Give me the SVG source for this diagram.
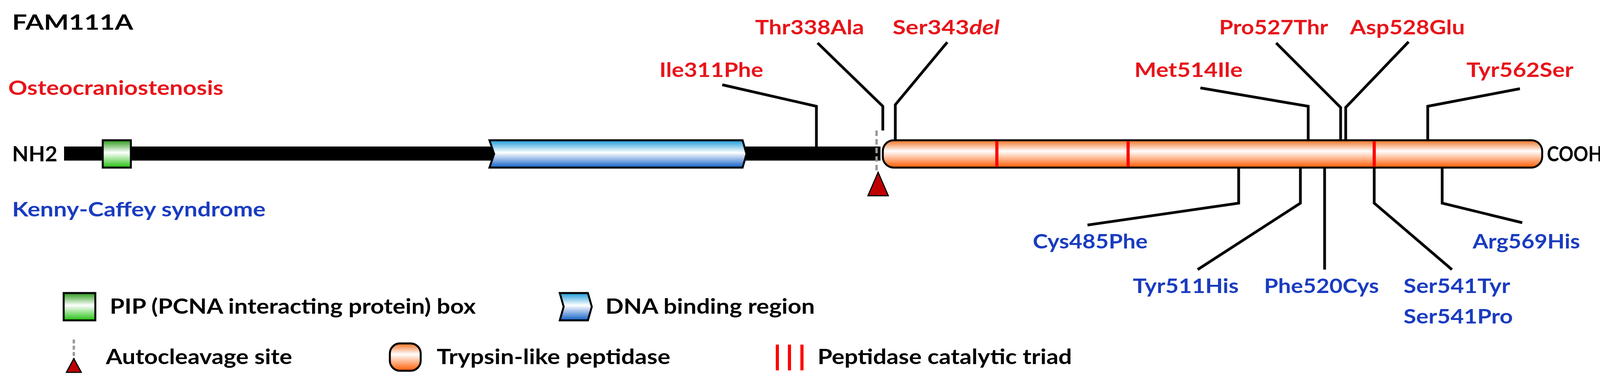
<svg xmlns="http://www.w3.org/2000/svg" width="4148" height="988" viewBox="0 0 4148 988">
<defs>
<linearGradient id="gG" x1="0" y1="0" x2="0" y2="1"><stop offset="0" stop-color="#2a9a1a"/><stop offset="0.45" stop-color="#ffffff"/><stop offset="1" stop-color="#22c010"/></linearGradient>
<linearGradient id="gB" x1="0" y1="0" x2="0" y2="1"><stop offset="0" stop-color="#1a9ad8"/><stop offset="0.45" stop-color="#ffffff"/><stop offset="1" stop-color="#1060c8"/></linearGradient>
<linearGradient id="gO" x1="0" y1="0" x2="0" y2="1"><stop offset="0" stop-color="#f07020"/><stop offset="0.4" stop-color="#ffffff"/><stop offset="1" stop-color="#ff5a00"/></linearGradient>
</defs>
<style>
text{font-family:Lato,"Open Sans","Liberation Sans",sans-serif;font-weight:bold}
.r{fill:#e8141a;font-size:52px}
.b{fill:#1a3cc0;font-size:52px}
.k{fill:#000;font-size:54px}
.ln{stroke:#000;stroke-width:7;fill:none}
.tri{stroke:#ff0000;stroke-width:8}
</style>
<rect width="4148" height="988" fill="#fff"/>
<text x="31" y="76" class="k" font-size="58" textLength="310" lengthAdjust="spacingAndGlyphs">FAM111A</text>
<text x="21" y="243" class="r" textLength="551" lengthAdjust="spacingAndGlyphs">Osteocraniostenosis</text>
<text x="31" y="554" class="b" textLength="649" lengthAdjust="spacingAndGlyphs">Kenny-Caffey syndrome</text>
<g id="connectors">
<polyline class="ln" points="1849,217 2090,272 2090,375"/>
<polyline class="ln" points="2093,110 2260,272 2260,334"/>
<polyline class="ln" points="2425,108 2292,268 2292,357"/>
<polyline class="ln" points="3073,225 3349,272 3349,357"/>
<polyline class="ln" points="3267,110 3432,275 3432,357"/>
<polyline class="ln" points="3606,107 3445,275 3445,357"/>
<polyline class="ln" points="3891,227 3655,272 3655,357"/>
<polyline class="ln" points="3171,430 3171,520 2784,576"/>
<polyline class="ln" points="3329,430 3329,520 3066,690"/>
<polyline class="ln" points="3391,430 3391,690"/>
<polyline class="ln" points="3518,430 3518,520 3717,690"/>
<polyline class="ln" points="3692,430 3692,520 3897,570"/>
</g>
<g id="backbone"><rect x="164" y="375" width="2090" height="36" fill="#000"/>
<text x="31" y="413" class="k" textLength="116" lengthAdjust="spacingAndGlyphs">NH2</text></g>
<g id="pip"><rect x="263" y="359" width="72" height="70" fill="url(#gG)" stroke="#000" stroke-width="5"/></g>
<g id="dna"><polygon points="1253,359 1901,359 1911,394 1901,429 1253,429 1265,394" fill="url(#gB)" stroke="#000" stroke-width="5"/></g>
<g id="peptidase"><rect x="2260" y="359" width="1688" height="70" rx="28" fill="url(#gO)" stroke="#000" stroke-width="5"/>
<line class="tri" x1="2552" y1="361" x2="2552" y2="427"/><line class="tri" x1="2888" y1="361" x2="2888" y2="427"/><line class="tri" x1="3518" y1="361" x2="3518" y2="427"/>
<text x="3960" y="413" class="k" textLength="142" lengthAdjust="spacingAndGlyphs">COOH</text></g>
<g id="cleavage"><line x1="2244" y1="334" x2="2244" y2="441" stroke="#999" stroke-width="6" stroke-dasharray="14,8"/>
<polygon points="2248,441 2274,501 2222,501" fill="#c00000" stroke="#000" stroke-width="3"/></g>
<g id="labels">
<text x="1688" y="197" class="r" textLength="266" lengthAdjust="spacingAndGlyphs">Ile311Phe</text>
<text x="1933" y="88" class="r" textLength="279" lengthAdjust="spacingAndGlyphs">Thr338Ala</text>
<text x="2285" y="88" class="r" textLength="274" lengthAdjust="spacingAndGlyphs">Ser343<tspan font-style="italic">del</tspan></text>
<text x="2904" y="197" class="r" textLength="277" lengthAdjust="spacingAndGlyphs">Met514Ile</text>
<text x="3121" y="88" class="r" textLength="279" lengthAdjust="spacingAndGlyphs">Pro527Thr</text>
<text x="3456" y="88" class="r" textLength="294" lengthAdjust="spacingAndGlyphs">Asp528Glu</text>
<text x="3754" y="197" class="r" textLength="274" lengthAdjust="spacingAndGlyphs">Tyr562Ser</text>
<text x="2644" y="636" class="b" textLength="294" lengthAdjust="spacingAndGlyphs">Cys485Phe</text>
<text x="2900" y="750" class="b" textLength="271" lengthAdjust="spacingAndGlyphs">Tyr511His</text>
<text x="3236" y="750" class="b" textLength="294" lengthAdjust="spacingAndGlyphs">Phe520Cys</text>
<text x="3593" y="750" class="b" textLength="273" lengthAdjust="spacingAndGlyphs">Ser541Tyr</text>
<text x="3593" y="828" class="b" textLength="280" lengthAdjust="spacingAndGlyphs">Ser541Pro</text>
<text x="3770" y="636" class="b" textLength="275" lengthAdjust="spacingAndGlyphs">Arg569His</text>
</g>
<g id="legend">
<rect x="163" y="750" width="81" height="70" fill="url(#gG)" stroke="#000" stroke-width="5"/>
<text x="281" y="803" class="k" textLength="937" lengthAdjust="spacingAndGlyphs">PIP (PCNA interacting protein) box</text>
<polygon points="1433,750 1505,750 1515,785 1505,820 1433,820 1443,785" fill="url(#gB)" stroke="#000" stroke-width="5"/>
<text x="1550" y="803" class="k" textLength="536" lengthAdjust="spacingAndGlyphs">DNA binding region</text>
<line x1="189" y1="869" x2="189" y2="920" stroke="#999" stroke-width="6" stroke-dasharray="10,6"/>
<polygon points="189,918 208,953 170,953" fill="#c00000" stroke="#000" stroke-width="3"/>
<text x="271" y="932" class="k" textLength="477" lengthAdjust="spacingAndGlyphs">Autocleavage site</text>
<rect x="998" y="879" width="79" height="70" rx="26" fill="url(#gO)" stroke="#000" stroke-width="5"/>
<text x="1118" y="932" class="k" textLength="598" lengthAdjust="spacingAndGlyphs">Trypsin-like peptidase</text>
<line class="tri" x1="1990" y1="882" x2="1990" y2="948"/><line class="tri" x1="2021" y1="882" x2="2021" y2="948"/><line class="tri" x1="2053" y1="882" x2="2053" y2="948"/>
<text x="2093" y="932" class="k" textLength="651" lengthAdjust="spacingAndGlyphs">Peptidase catalytic triad</text>
</g>
</svg>
